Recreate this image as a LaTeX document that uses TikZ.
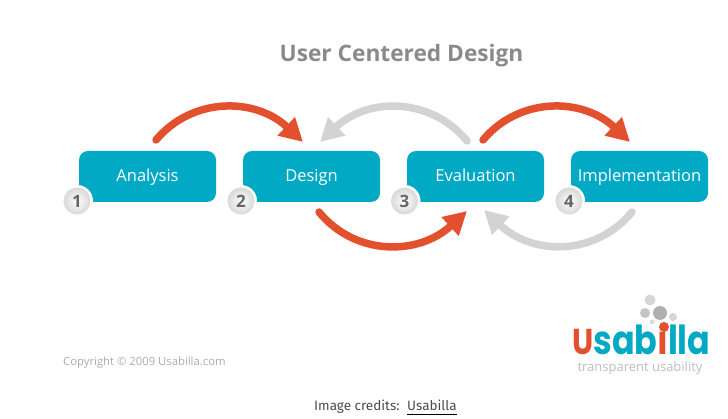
\documentclass[tikz,border=0pt]{standalone}
\usepackage{fontspec}
\usepackage{graphicx}
\setmainfont{Open Sans}
\newfontfamily\captionfont{Fira Sans}
\newfontfamily\logofont{Poppins}
\usetikzlibrary{arrows.meta}
\definecolor{boxteal}{HTML}{02A9C5}
\definecolor{arcred}{HTML}{E2502E}
\definecolor{arcgray}{HTML}{D3D3D3}
\definecolor{badgegray}{HTML}{DCDCDC}
\definecolor{digitgray}{HTML}{666666}
\definecolor{titlegray}{HTML}{8A8A8A}
\definecolor{copygray}{HTML}{ABABAB}
\definecolor{taggray}{HTML}{BDBDBD}
\definecolor{bubblegray}{HTML}{C4C4C4}
\tikzset{
  stagebox/.style={fill=boxteal,rounded corners=9pt,minimum width=137pt,minimum height=51pt,inner sep=0pt,
    text=white,font=\fontsize{16.5}{18}\selectfont,text height=12pt,text depth=2pt},
  badgering/.style={circle,fill=white,minimum size=32pt,inner sep=0pt},
  badge/.style={circle,draw=badgegray,line width=2pt,inner color=white!92!badgegray,outer color=badgegray,minimum size=25pt,inner sep=0pt,
    text=digitgray,font=\fontsize{17}{18}\selectfont\bfseries},
  redarc/.style={draw=arcred,line width=7.5pt,line cap=round,-{Triangle[length=23pt,width=24pt,fill=arcred]}},
  grayarc/.style={draw=arcgray,line width=7.5pt,line cap=round,-{Triangle[length=23pt,width=24pt,fill=arcgray]}},
  bubble/.style={circle,fill=bubblegray,inner sep=0pt},
}
\begin{document}
\begin{tikzpicture}[x=1pt,y=-1pt]
\useasboundingbox (0,0) rectangle (728,419);
\node[text=titlegray,font=\fontsize{22.7}{26}\selectfont\bfseries] (title) at (401.5,56) {User Centered Design};

\node[stagebox] (analysis) at (147.5,176.5) {Analysis};
\node[stagebox] (design) at (311.5,176.5) {Design};
\node[stagebox] (evaluation) at (475.5,176.5) {Evaluation};
\node[stagebox] (implementation) at (639.5,176.5) {Implementation};

\foreach \nm/\n/\x in {one/1/77,two/2/241,three/3/404.5,four/4/569}{
  \node[badgering] (ring\nm) at (\x,201) {};
  \node[badge] (badge\nm) at (\x,201) {\n};
}

\coordinate (ad1) at (156,140);
\coordinate (ad2) at (303,142);
\coordinate (ei1) at (483,140);
\coordinate (ei2) at (630,142);
\coordinate (ed1) at (467,141);
\coordinate (ed2) at (320,142);
\coordinate (de1) at (319,212);
\coordinate (de2) at (467,211);
\coordinate (ie1) at (632,212);
\coordinate (ie2) at (484,210);

\draw[redarc] (ad1) .. controls (192,97) and (255,97) .. (ad2);
\draw[redarc] (ei1) .. controls (519,97) and (582,97) .. (ei2);
\draw[grayarc] (ed1) .. controls (431,97) and (368,97) .. (ed2);
\draw[redarc] (de1) .. controls (355,256) and (418,256) .. (de2);
\draw[grayarc] (ie1) .. controls (596,256) and (533,256) .. (ie2);

\node[text=copygray,anchor=west,inner sep=0pt,font=\fontsize{11.3}{13}\selectfont] (copyright) at (63,362.5) {Copyright © 2009 Usabilla.com};

\node[anchor=base west,inner sep=0pt,font=\logofont\fontsize{40}{42}\selectfont\bfseries] (logoword) at (572,355)
  {\scalebox{.835}[1]{\textcolor{arcred}{\fontsize{36}{36}\selectfont U}\textcolor{boxteal}{sab}\textcolor{arcred}{ı}\textcolor{boxteal}{lla}}};
\node[circle,fill=arcred,minimum size=10pt,inner sep=0pt] (logodot) at (664,327) {};
\node[anchor=base,inner sep=0pt,text=taggray,font=\fontsize{13}{15}\selectfont] (logotag) at (640,371) {transparent usability};
\node[bubble,minimum size=11pt,fill=bubblegray!70] (b1) at (650,300) {};
\node[bubble,minimum size=10pt] (b2) at (645,313) {};
\node[bubble,minimum size=14pt,fill=bubblegray!90!black] (b3) at (660,313) {};
\node[bubble,minimum size=8pt,fill=bubblegray!70] (b4) at (673,317) {};
\node[bubble,minimum size=5pt,fill=bubblegray!60] (b5) at (652,322) {};

\node[anchor=base west,inner sep=0pt,text=black!70,font=\captionfont\fontsize{13.5}{15}\selectfont] (credits) at (314,410) {Image credits:};
\node[anchor=base west,inner sep=0pt,text=black!70,font=\captionfont\fontsize{13.5}{15}\selectfont] (credlink) at (407,410) {Usabilla};
\draw[black,line width=1pt] ([yshift=-4.5pt]credlink.base west) -- ([yshift=-4.5pt]credlink.base east);
\end{tikzpicture}
\end{document}
